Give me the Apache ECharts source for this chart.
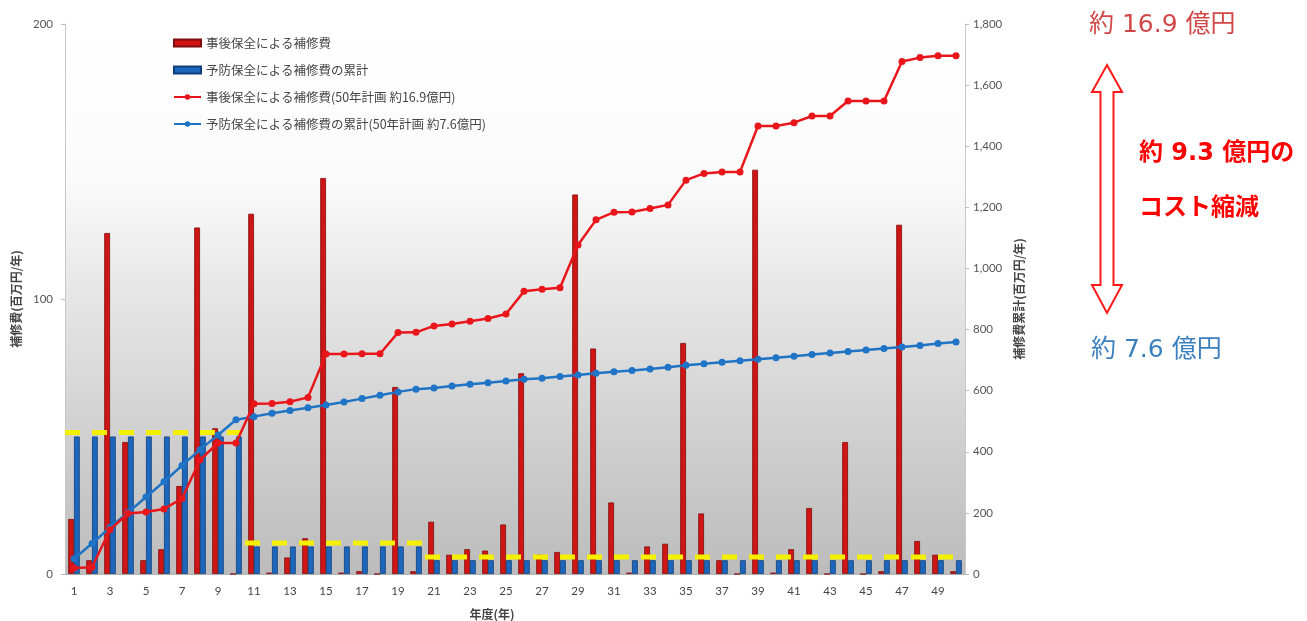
<!DOCTYPE html>
<html>
<head>
<meta charset="utf-8">
<script src="https://cdn.jsdelivr.net/npm/echarts@6/dist/echarts.min.js"></script>
<style>
  html, body { margin: 0; padding: 0; background: #ffffff; }
  #chart { width: 1307px; height: 621px; }
</style>
</head>
<body>
<div id="chart"></div>
<script>
// 年度 (1〜50年)
const years = ['1','2','3','4','5','6','7','8','9','10',
  '11','12','13','14','15','16','17','18','19','20',
  '21','22','23','24','25','26','27','28','29','30',
  '31','32','33','34','35','36','37','38','39','40',
  '41','42','43','44','45','46','47','48','49','50'];

// 事後保全による補修費 (百万円/年)
const reactiveCost = [20, 5, 124, 48, 5, 9, 32, 126, 53, 0,
  131, 0.5, 6, 13, 144, 0.5, 1, 0, 68, 1,
  19, 7, 9, 8.5, 18, 73, 7, 8, 138, 82,
  26, 0.5, 10, 11, 84, 22, 5, 0, 147, 0.5,
  9, 24, 0, 48, 0, 1, 127, 12, 7, 1];

// 予防保全による補修費 (百万円/年)
const preventiveCost = [50, 50, 50, 50, 50, 50, 50, 50, 50, 50,
  10, 10, 10, 10, 10, 10, 10, 10, 10, 10,
  5, 5, 5, 5, 5, 5, 5, 5, 5, 5,
  5, 5, 5, 5, 5, 5, 5, 5, 5, 5,
  5, 5, 5, 5, 5, 5, 5, 5, 5, 5];

// 事後保全による補修費の累計 (百万円)
const reactiveTotal = [20, 22, 145, 198, 203, 213, 247, 373, 429, 429,
  557, 558, 564, 578, 720, 720, 721, 721, 790, 791,
  812, 818, 827, 836, 851, 925, 932, 937, 1077, 1159,
  1184, 1185, 1196, 1208, 1289, 1311, 1316, 1316, 1466, 1466,
  1477, 1499, 1499, 1548, 1548, 1548, 1677, 1690, 1696, 1696];

// 予防保全による補修費の累計 (百万円)
const preventiveTotal = [50, 100, 152, 201, 252, 302, 355, 407, 455, 505,
  515, 526, 535, 544, 553, 563, 574, 585, 596, 605,
  609, 615, 621, 626, 632, 637, 641, 646, 651, 657,
  662, 666, 671, 677, 683, 688, 693, 698, 703, 708,
  713, 718, 723, 728, 733, 738, 743, 748, 754, 759];

// 年度ごとの予算水準 (百万円/年)
const budgetLevel = [51.5, 51.5, 51.5, 51.5, 51.5, 51.5, 51.5, 51.5, 51.5, 51.5,
  11.3, 11.3, 11.3, 11.3, 11.3, 11.3, 11.3, 11.3, 11.3, 11.3,
  6.2, 6.2, 6.2, 6.2, 6.2, 6.2, 6.2, 6.2, 6.2, 6.2,
  6.2, 6.2, 6.2, 6.2, 6.2, 6.2, 6.2, 6.2, 6.2, 6.2,
  6.2, 6.2, 6.2, 6.2, 6.2, 6.2, 6.2, 6.2, 6.2, 6.2];

const leftTicks = { min: 0, max: 200, interval: 100 };
const rightTicks = { min: 0, max: 1800, interval: 200 };

// Budget level drawn as separate horizontal runs spanning whole year slots
function levelSegments(levels) {
  const pts = [];
  let start = 0;
  for (let i = 1; i <= levels.length; i++) {
    if (i === levels.length || levels[i] !== levels[start]) {
      pts.push([start + 0.5, levels[start]]);
      pts.push([i + 0.5, levels[start]]);
      if (i < levels.length) pts.push([i + 0.5, '-']);
      start = i;
    }
  }
  return pts;
}

const CJK = '"Noto Sans CJK JP", "Noto Sans", sans-serif';
const NUM = 'Lato, "Noto Sans", sans-serif';
const NOTE = '"DejaVu Sans", "Noto Sans CJK JP", sans-serif';

const chart = echarts.init(document.getElementById('chart'), null, { renderer: 'canvas' });

chart.setOption({
  animation: false,
  backgroundColor: '#ffffff',
  grid: {
    left: 65, right: 342, top: 24, bottom: 47,
    outerBoundsMode: 'none',
    containLabel: false,
    show: true,
    borderWidth: 0,
    backgroundColor: new echarts.graphic.LinearGradient(0, 0, 0, 1, [
      { offset: 0, color: '#ffffff' },
      { offset: 0.28, color: '#fbfbfb' },
      { offset: 0.45, color: '#eaeaea' },
      { offset: 0.72, color: '#d2d2d2' },
      { offset: 1, color: '#bcbcbc' }
    ])
  },
  legend: {
    left: 168, top: 31,
    orient: 'vertical',
    itemWidth: 27, itemHeight: 7,
    itemGap: 13,
    textStyle: { fontFamily: CJK, fontSize: 12.5, color: '#454545', lineHeight: 14 },
    data: [
      { name: '事後保全による補修費', icon: 'rect' },
      { name: '予防保全による補修費の累計', icon: 'rect' },
      { name: '事後保全による補修費(50年計画 約16.9億円)' },
      { name: '予防保全による補修費の累計(50年計画 約7.6億円)' }
    ]
  },
  xAxis: [{
    type: 'category',
    data: years,
    name: '年度(年)',
    nameLocation: 'middle',
    nameGap: 34,
    nameTextStyle: { fontFamily: CJK, fontSize: 12, fontWeight: 'bold', color: '#444', padding: [0, 46, 0, 0] },
    axisLine: { lineStyle: { color: '#b5b5b5', width: 1 } },
    axisTick: { show: false },
    axisLabel: { interval: 1, margin: 11, fontFamily: NUM, fontSize: 11.5, color: '#444' }
  }, {
    type: 'value',
    min: 0.5, max: 50.5,
    show: false
  }],
  yAxis: [{
    type: 'value',
    position: 'left',
    min: leftTicks.min, max: leftTicks.max, interval: leftTicks.interval,
    name: '補修費(百万円/年)',
    nameLocation: 'middle',
    nameRotate: 90,
    nameGap: 42,
    nameTextStyle: { fontFamily: CJK, fontSize: 12, fontWeight: 'bold', color: '#444' },
    axisLine: { show: true, lineStyle: { color: '#c8c8c8' } },
    axisTick: { show: true, length: 4, lineStyle: { color: '#bdbdbd' } },
    axisLabel: { margin: 12, fontFamily: NUM, fontSize: 11.5, color: '#555' },
    splitLine: { show: false }
  }, {
    type: 'value',
    position: 'right',
    min: rightTicks.min, max: rightTicks.max, interval: rightTicks.interval,
    name: '補修費累計(百万円/年)',
    nameLocation: 'middle',
    nameRotate: 90,
    nameGap: 48,
    nameTextStyle: { fontFamily: CJK, fontSize: 12, fontWeight: 'bold', color: '#444' },
    axisLine: { show: true, lineStyle: { color: '#c8c8c8' } },
    axisTick: { show: true, length: 4, lineStyle: { color: '#bdbdbd' } },
    axisLabel: {
      margin: 8, fontFamily: NUM, fontSize: 11.5, color: '#555',
      formatter: v => v.toLocaleString('en-US')
    },
    splitLine: { show: false }
  }],
  series: [{
    name: '事後保全による補修費',
    type: 'bar',
    xAxisIndex: 0, yAxisIndex: 0,
    data: reactiveCost,
    barGap: '0%',
    barCategoryGap: '36%',
    itemStyle: { color: '#d11414', borderColor: '#7e0c0c', borderWidth: 0.8 },
    z: 2
  }, {
    name: '予防保全による補修費の累計',
    type: 'bar',
    xAxisIndex: 0, yAxisIndex: 0,
    data: preventiveCost,
    barGap: '0%',
    barCategoryGap: '36%',
    itemStyle: { color: '#1c67bd', borderColor: '#0f3f78', borderWidth: 0.8 },
    z: 2
  }, {
    name: '予算水準',
    type: 'line',
    xAxisIndex: 1, yAxisIndex: 0,
    data: levelSegments(budgetLevel),
    showSymbol: false,
    symbol: 'none',
    connectNulls: false,
    lineStyle: { color: '#f4f000', width: 5, type: [15, 12] },
    z: 3,
    silent: true
  }, {
    name: '予防保全による補修費の累計(50年計画 約7.6億円)',
    type: 'line',
    xAxisIndex: 0, yAxisIndex: 1,
    data: preventiveTotal,
    symbol: 'circle',
    symbolSize: 7,
    lineStyle: { color: '#1f74c6', width: 2.5 },
    itemStyle: { color: '#1f74c6' },
    z: 4
  }, {
    name: '事後保全による補修費(50年計画 約16.9億円)',
    type: 'line',
    xAxisIndex: 0, yAxisIndex: 1,
    data: reactiveTotal,
    symbol: 'circle',
    symbolSize: 7,
    lineStyle: { color: '#e8161b', width: 2.5 },
    itemStyle: { color: '#e8161b' },
    z: 5
  }],
  graphic: [{
    type: 'polygon',
    shape: {
      points: [
        [1107, 65], [1122, 92], [1113.5, 92], [1113.5, 285], [1122, 285],
        [1107, 313], [1092, 285], [1100.5, 285], [1100.5, 92], [1092, 92]
      ]
    },
    style: { fill: '#ffffff', stroke: '#ff1a1a', lineWidth: 2 },
    z: 10
  }, {
    type: 'text',
    left: 1089, top: 13,
    style: { text: '約 16.9 億円', fontFamily: NOTE, fontSize: 25, fill: '#d24848' },
    z: 10
  }, {
    type: 'text',
    left: 1091, top: 338,
    style: { text: '約 7.6 億円', fontFamily: NOTE, fontSize: 25, fill: '#3b7fc0' },
    z: 10
  }, {
    type: 'text',
    left: 1139, top: 142,
    style: { text: '約 9.3 億円の', fontFamily: NOTE, fontSize: 24, fontWeight: 'bold', fill: '#ff0000' },
    z: 10
  }, {
    type: 'text',
    left: 1139, top: 194,
    style: { text: 'コスト縮減', fontFamily: CJK, fontSize: 24, fontWeight: 'bold', fill: '#ff0000' },
    z: 10
  }]
});
</script>
</body>
</html>
